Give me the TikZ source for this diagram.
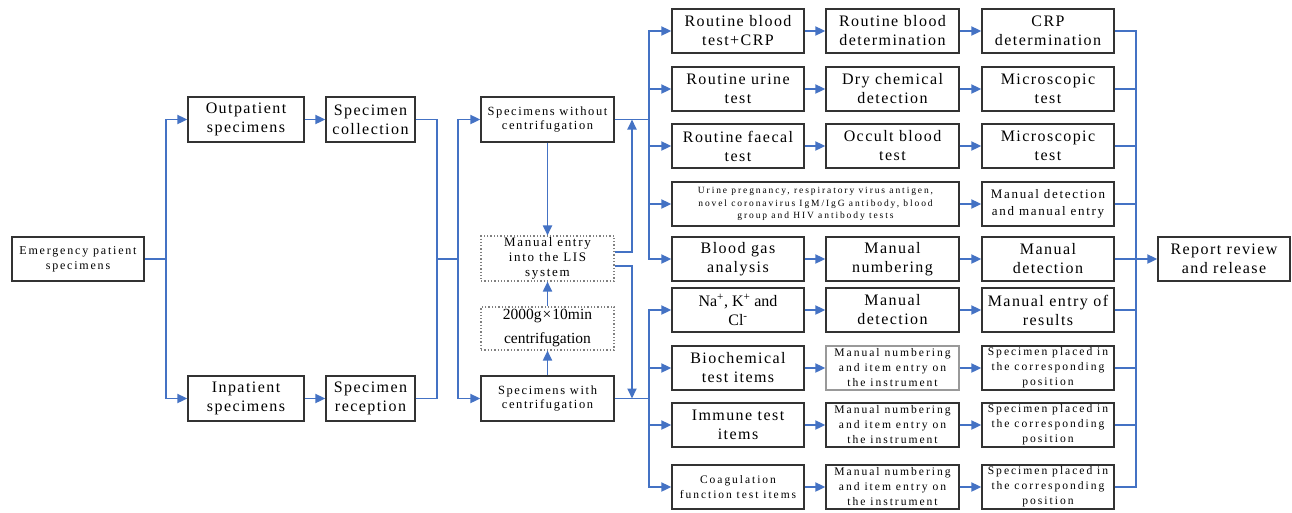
\documentclass[tikz,border=0pt]{standalone}
\usepackage{fontspec}
\setmainfont{Liberation Serif}
\newfontfamily\fa[LetterSpace=9]{Liberation Serif}
\newfontfamily\fb[LetterSpace=13]{Liberation Serif}
\newfontfamily\fc[LetterSpace=17]{Liberation Serif}
\newfontfamily\fd[LetterSpace=20]{Liberation Serif}
\newfontfamily\fe[LetterSpace=15]{Liberation Serif}
\newfontfamily\fn{Liberation Serif}
\usetikzlibrary{arrows.meta,calc}
\definecolor{lineblue}{HTML}{4472C4}
\definecolor{boxline}{HTML}{333333}
\begin{document}
\begin{tikzpicture}[x=1pt,y=-1pt,
  box/.style={draw=boxline,line width=1.3pt,inner sep=0pt,align=center,minimum height=44pt,minimum width=132pt},
  dbox/.style={box,draw=gray,dotted,line width=1.1pt},
  conn/.style={draw=lineblue,line width=1.8pt},
  arr/.style={conn,-{Triangle[length=10pt,width=9pt]}},
  big/.style={font=\fa\fontsize{16}{19}\selectfont},
  mid/.style={font=\fb\fontsize{12.5}{14.5}\selectfont},
  sml/.style={font=\fc\fontsize{11.6}{15}\selectfont},
  tiny/.style={font=\fd\fontsize{9.5}{12.7}\selectfont}]
\fill[white] (0,0) rectangle (1292,512);
\useasboundingbox (0,0) rectangle (1292,512);

% left part
\node[box,font=\fe\fontsize{12}{15}\selectfont] (em) at (78,259) {Emergency patient\\specimens};
\node[box,big,minimum width=116pt,minimum height=45pt] (out) at (246,119.5) {Outpatient\\specimens};
\node[box,big,minimum width=89pt,minimum height=45pt] (col) at (370.5,119.5) {Specimen\\collection};
\node[box,big,minimum width=116pt,minimum height=45pt] (inp) at (246,398.5) {Inpatient\\specimens};
\node[box,big,minimum width=89pt,minimum height=45pt] (rec) at (370.5,398.5) {Specimen\\reception};

% middle part
\node[box,mid,minimum width=133pt,minimum height=45pt] (wo) at (547.5,119.5) {Specimens without\\centrifugation};
\node[dbox,font=\fb\fontsize{13}{15.3}\selectfont,minimum width=133pt,minimum height=45pt] (lis) at (547.5,258.5) {Manual entry\\into the LIS\\system};
\node[dbox,font=\fn\fontsize{15.5}{24}\selectfont,minimum width=133pt,minimum height=43pt] (cen) at (547.5,328.5) {2000g\kern1pt×\kern1pt10min\\centrifugation};
\node[box,mid,minimum width=133pt,minimum height=45pt] (wi) at (547.5,398.5) {Specimens with\\centrifugation};

% column A
\node[box,big] (a1) at (738,31) {Routine blood\\test+CRP};
\node[box,big] (a2) at (738,89) {Routine urine\\test};
\node[box,big] (a3) at (738,146) {Routine faecal\\test};
\node[box,tiny,minimum width=287pt] (a4) at (815.5,204) {Urine pregnancy, respiratory virus antigen,\\novel coronavirus IgM/IgG antibody, blood\\group and HIV antibody tests};
\node[box,big] (a5) at (738,259) {Blood gas\\analysis};
\node[box,font=\fn\fontsize{16}{19}\selectfont] (a6) at (738,310) {Na\textsuperscript{+}, K\textsuperscript{+} and\\Cl\textsuperscript{-}};
\node[box,big] (a7) at (738,368) {Biochemical\\test items};
\node[box,big] (a8) at (738,425) {Immune test\\items};
\node[box,font=\fc\fontsize{11.5}{15}\selectfont] (a9) at (738,487) {Coagulation\\function test items};

% column B
\node[box,big,minimum width=133pt] (b1) at (892.5,31) {Routine blood\\determination};
\node[box,big,minimum width=133pt] (b2) at (892.5,89) {Dry chemical\\detection};
\node[box,big,minimum width=133pt] (b3) at (892.5,146) {Occult blood\\test};
\node[box,big,minimum width=133pt] (b5) at (892.5,259) {Manual\\numbering};
\node[box,big,minimum width=133pt] (b6) at (892.5,310) {Manual\\detection};
\node[box,sml,minimum width=133pt,draw=gray!80] (b7) at (892.5,368) {Manual numbering\\and item entry on\\the instrument};
\node[box,sml,minimum width=133pt] (b8) at (892.5,425) {Manual numbering\\and item entry on\\the instrument};
\node[box,sml,minimum width=133pt] (b9) at (892.5,487) {Manual numbering\\and item entry on\\the instrument};

% column C
\node[box,big] (c1) at (1048,31) {CRP\\determination};
\node[box,big] (c2) at (1048,89) {Microscopic\\test};
\node[box,big] (c3) at (1048,146) {Microscopic\\test};
\node[box,font=\fb\fontsize{13}{17}\selectfont] (c4) at (1048,204) {Manual detection\\and manual entry};
\node[box,big] (c5) at (1048,259) {Manual\\detection};
\node[box,big] (c6) at (1048,310) {Manual entry of\\results};
\node[box,sml] (c7) at (1048,368) {Specimen placed in\\the corresponding\\position};
\node[box,sml] (c8) at (1048,425) {Specimen placed in\\the corresponding\\position};
\node[box,sml] (c9) at (1048,487) {Specimen placed in\\the corresponding\\position};

\node[box,big,minimum width=132pt] (rep) at (1224,259) {Report review\\and release};

% coordinates of buses
\coordinate (s1) at (166,259);
\coordinate (m1) at (437,259);
\coordinate (s2) at (458,259);
\coordinate (up) at (632,119.5);
\coordinate (dn) at (632,398.5);
\coordinate (bu) at (649,119.5);
\coordinate (bl) at (649,398.5);
\coordinate (fb) at (1136,259);

% left connectors
\draw[conn] (em.east) -- (s1);
\draw[arr] (s1) |- (out.west);
\draw[arr] (s1) |- (inp.west);
\draw[arr] (out) -- (col);
\draw[arr] (inp) -- (rec);
\draw[conn] (col.east) -| (m1);
\draw[conn] (rec.east) -| (m1);
\draw[conn] (m1) -- (s2);
\draw[arr] (s2) |- (wo.west);
\draw[arr] (s2) |- (wi.west);

% middle connectors
\draw[arr] (wo) -- (lis);
\draw[arr] (cen) -- (lis);
\draw[arr] (wi) -- (cen);
\draw[arr] ($(lis.east)+(0,-6.5)$) -| (up);
\draw[arr] ($(lis.east)+(0,7.5)$) -| (dn);
\draw[conn] (wo.east) -- (bu);
\draw[conn] (wi.east) -- (bl);
\foreach \n in {a1,a2,a3,a4,a5}{\draw[arr] (bu) |- (\n.west);}
\foreach \n in {a6,a7,a8,a9}{\draw[arr] (bl) |- (\n.west);}

% row connectors
\foreach \i in {1,2,3,5,6,7,8,9}{
  \draw[arr] (a\i) -- (b\i);
  \draw[arr] (b\i) -- (c\i);
}
\draw[arr] (a4) -- (c4);
\foreach \i in {1,...,9}{\draw[conn] (c\i.east) -| (fb);}
\draw[arr] (fb) -- (rep.west);
\end{tikzpicture}
\end{document}
